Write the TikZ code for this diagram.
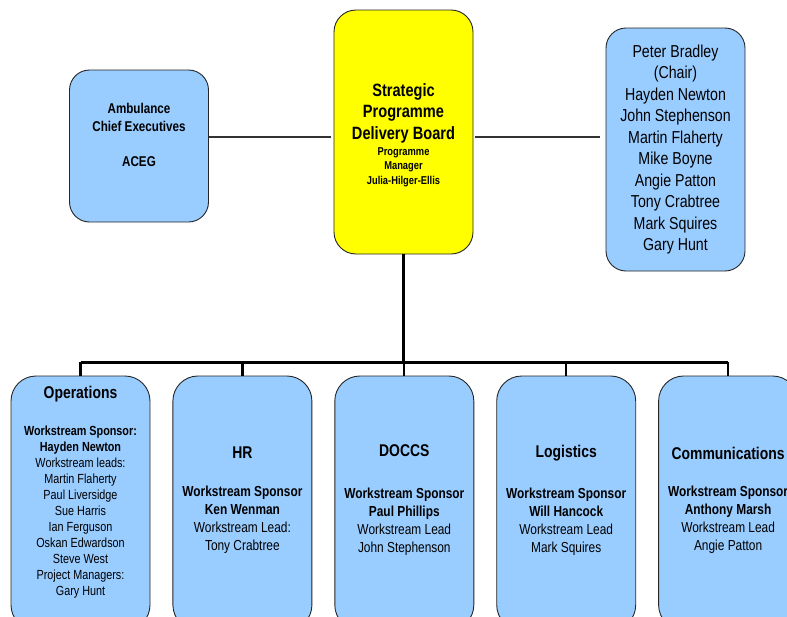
\documentclass[tikz,border=0pt]{standalone}
\usepackage{fontspec}
\setmainfont[FakeStretch=0.82]{Liberation Sans}
\usepackage{tikz}
\usetikzlibrary{positioning}
\definecolor{boxblue}{RGB}{153,204,255}
\definecolor{boardyellow}{RGB}{255,255,0}
\newcommand{\wsttl}{\fontsize{17}{21}\selectfont\bfseries}
\newcommand{\wsbody}{\fontsize{14.5}{18}\selectfont}
\newcommand{\opsbody}{\fontsize{13.2}{16}\selectfont}

\begin{document}
\begin{tikzpicture}[
  x=1pt, y=-1pt,
  grp/.style={draw=black!85, fill=boxblue, rounded corners=20pt,
              minimum width=139pt, inner sep=2pt, align=center, line width=0.9pt},
  brd/.style={grp, fill=boardyellow, rounded corners=22pt},
  ws/.style={grp, rounded corners=25pt, minimum height=254pt, font=\wsbody},
  link/.style={black!80, line width=1.1pt},
  trunk/.style={black, line width=3pt},
  drop/.style={black, line width=2.2pt}
]
\clip (0,0) rectangle (787,616);

%% ---------- TOP ROW ----------
\node[grp, minimum height=152pt, font=\fontsize{14.2}{17.5}\selectfont\bfseries]
  (aceg) at (139,146) {Ambulance\\Chief Executives\\[17.5pt]ACEG\\[5pt]~};
\node[brd, minimum height=244pt, font=\fontsize{17.8}{21.5}\selectfont\bfseries]
  (spdb) at (403.5,132) {~\\[-2.5pt]Strategic\\Programme\\Delivery Board\\[-5.5pt]%
  {\fontsize{11.4}{14.5}\selectfont Programme}\\[-7pt]%
  {\fontsize{11.4}{14.5}\selectfont Manager}\\[-7pt]%
  {\fontsize{11.4}{14.5}\selectfont Julia-Hilger-Ellis}};
\node[grp, minimum height=243pt, font=\fontsize{17.3}{21.5}\selectfont]
  (board) at (675.5,149.5) {Peter Bradley\\(Chair)\\Hayden Newton\\John Stephenson\\%
  Martin Flaherty\\Mike Boyne\\Angie Patton\\Tony Crabtree\\Mark Squires\\Gary Hunt};

\draw[link, shorten <=3pt] ([yshift=-5pt]spdb.west) -- ([yshift=-5pt]spdb.west -| aceg.east);
\draw[link, shorten <=2pt, shorten >=6pt] ([yshift=-5pt]spdb.east) -- ([yshift=-5pt]spdb.east -| board.west);

%% ---------- WORKSTREAMS ----------
\node[ws, font=\opsbody] (ops) at (80.5,503) {{\wsttl Operations}\\[21pt]%
  {\bfseries Workstream Sponsor:}\\{\bfseries Hayden Newton}\\Workstream leads:\\%
  Martin Flaherty\\Paul Liversidge\\Sue Harris\\Ian Ferguson\\Oskan Edwardson\\%
  Steve West\\Project Managers:\\Gary Hunt\\[9pt]~};
\node[ws, right=22pt of ops] (hr) {{\wsttl HR}\\[20pt]%
  {\bfseries Workstream Sponsor}\\{\bfseries Ken Wenman}\\Workstream Lead:\\Tony Crabtree\\[-9pt]~};
\node[ws, right=22pt of hr] (doccs) {{\wsttl DOCCS}\\[24pt]%
  {\bfseries Workstream Sponsor}\\{\bfseries Paul Phillips}\\Workstream Lead\\John Stephenson\\[-9pt]~};
\node[ws, right=22pt of doccs] (logi) {{\wsttl Logistics}\\[23pt]%
  {\bfseries Workstream Sponsor}\\{\bfseries Will Hancock}\\Workstream Lead\\Mark Squires\\[-9pt]~};
\node[ws, right=22pt of logi] (comms) {{\wsttl Communications}\\[19pt]%
  {\bfseries Workstream Sponsor}\\{\bfseries Anthony Marsh}\\Workstream Lead\\Angie Patton\\[-9pt]~};

%% ---------- TREE ----------
\coordinate (bus) at (403.5,362);
\draw[trunk] (spdb.south) -- (bus);
\draw[trunk] (ops.north |- bus) -- (comms.north |- bus);
\foreach \b in {ops,hr,doccs,logi,comms}
  \draw[drop] (\b.north |- bus) -- (\b.north);

\end{tikzpicture}
\end{document}
